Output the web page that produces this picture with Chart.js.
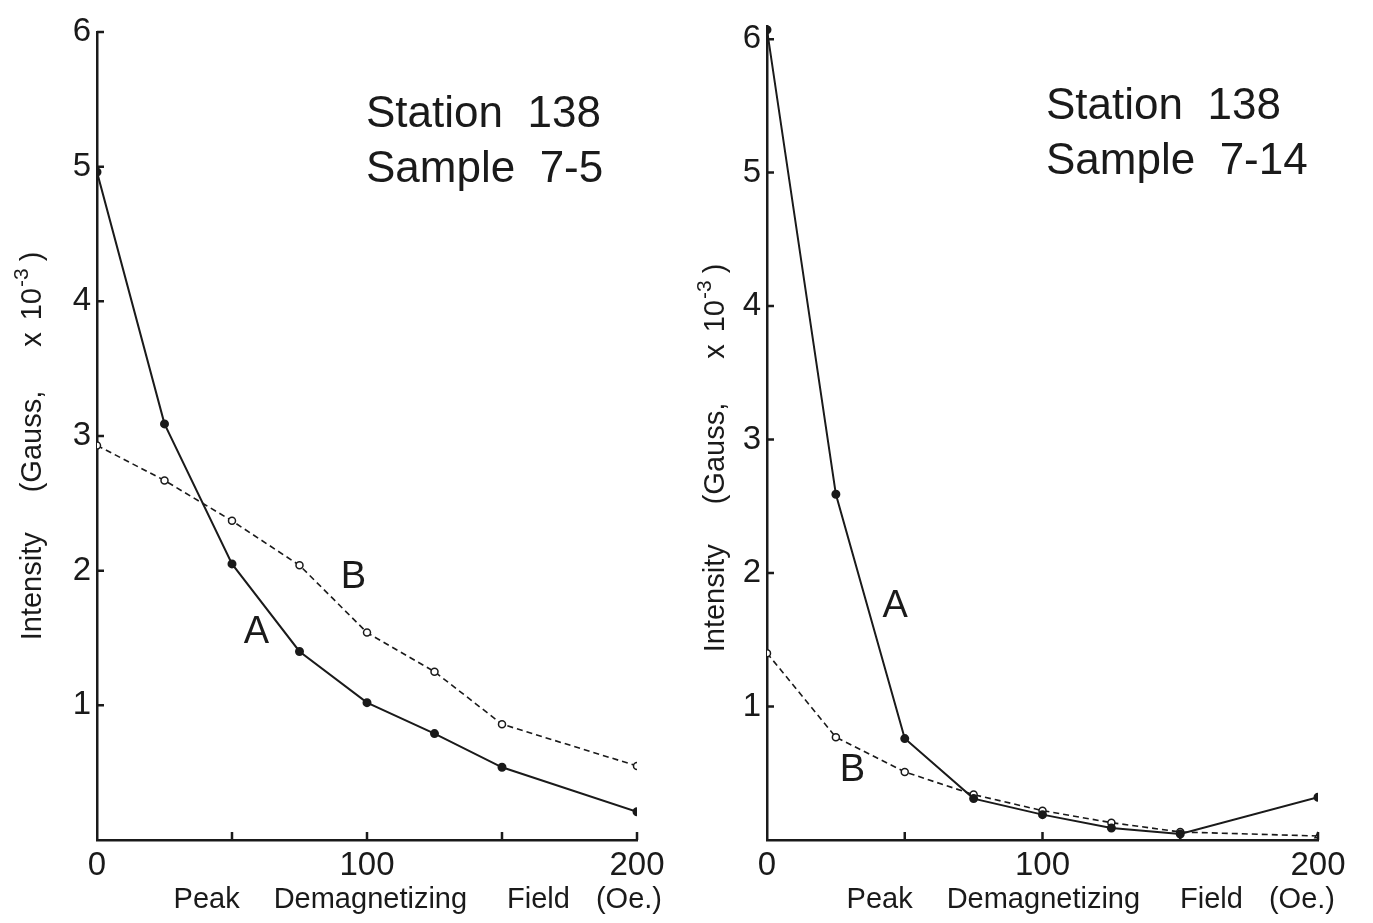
<!DOCTYPE html>
<html>
<head>
<meta charset="utf-8">
<script src="https://cdn.jsdelivr.net/npm/chart.js@4.4.0/dist/chart.umd.min.js"></script>
<style>
  html, body { margin: 0; padding: 0; background: #fff; }
  #wrap { position: relative; width: 1373px; height: 923px; overflow: hidden; }
  canvas { position: absolute; top: 0; }
</style>
</head>
<body>
<div id="wrap">
  <canvas id="left" width="686" height="923" style="left:0"></canvas>
  <canvas id="right" width="687" height="923" style="left:686px"></canvas>
</div>
<script>
// demagnetizing field steps (Oe.)
const fieldOe = [0, 25, 50, 75, 100, 125, 150, 200];

// Sample 7-5
const leftA = [4.96, 3.09, 2.05, 1.40, 1.02, 0.79, 0.54, 0.21];
const leftB = [2.93, 2.67, 2.37, 2.04, 1.54, 1.25, 0.86, 0.55];

// Sample 7-14
const rightA = [6.07, 2.59, 0.76, 0.31, 0.19, 0.09, 0.045, 0.32];
const rightB = [1.40, 0.77, 0.51, 0.34, 0.22, 0.13, 0.06, 0.03];

const xTickLabels = [0, 100, 200];
const xTickMarks = [50, 100, 150, 200];
const yTickLabels = [1, 2, 3, 4, 5, 6];

const ink = '#1a1a1a';
const FONT = '"Liberation Sans", Arial, sans-serif';

// draw a run of words with fixed gaps, ending at xEnd
function wordRun(ctx, words, gaps, xEnd, y) {
  let total = 0;
  words.forEach((w, i) => { total += ctx.measureText(w).width + (i < gaps.length ? gaps[i] : 0); });
  let x = xEnd - total;
  ctx.textAlign = 'left';
  words.forEach((w, i) => {
    ctx.fillText(w, x, y);
    x += ctx.measureText(w).width + (i < gaps.length ? gaps[i] : 0);
  });
}

// titles, station text and the A / B curve labels
const decor = {
  id: 'decor',
  afterDraw(chart, args, o) {
    const { ctx, chartArea: ca, scales } = chart;
    const xs = scales.x, ys = scales.y;
    ctx.save();
    ctx.strokeStyle = ink;
    ctx.fillStyle = ink;

    // inward tick marks
    ctx.lineWidth = 2.5;
    ctx.beginPath();
    yTickLabels.forEach(v => {
      const py = ys.getPixelForValue(v);
      ctx.moveTo(ca.left, py);
      ctx.lineTo(ca.left + 7, py);
    });
    xTickMarks.forEach(v => {
      const px = xs.getPixelForValue(v);
      ctx.moveTo(px, ca.bottom);
      ctx.lineTo(px, ca.bottom - 8);
    });
    ctx.stroke();

    // y title, rotated, with superscript exponent
    // [text, size, raise, gap after]
    const parts = [
      ['Intensity', 29, 0, 40],
      ['(Gauss,', 29, 0, 44],
      ['x', 29, 0, 12],
      ['10', 29, 0, 1],
      ['-3', 21, -11, 7],
      [')', 29, 0, 0]
    ];
    let total = 0;
    parts.forEach(p => { ctx.font = p[1] + 'px ' + FONT; total += ctx.measureText(p[0]).width + p[3]; });
    ctx.translate(o.yTitleX, o.yTitleY);
    ctx.rotate(-Math.PI / 2);
    ctx.textBaseline = 'middle';
    ctx.textAlign = 'left';
    let cx = -total / 2;
    parts.forEach(p => {
      ctx.font = p[1] + 'px ' + FONT;
      ctx.fillText(p[0], cx, p[2]);
      cx += ctx.measureText(p[0]).width + p[3];
    });
    ctx.setTransform(1, 0, 0, 1, 0, 0);

    // x title
    ctx.font = '29px ' + FONT;
    ctx.textBaseline = 'middle';
    wordRun(ctx, ['Peak', 'Demagnetizing', 'Field', '(Oe.)'], [34, 40, 26], ca.right + o.xTitleShift, 900);

    // station / sample block
    ctx.font = '44px ' + FONT;
    ctx.textAlign = 'left';
    ctx.fillText(o.station, o.stationX, o.stationY);
    ctx.fillText(o.sample, o.stationX, o.stationY + 55);

    // curve labels
    ctx.font = '38px ' + FONT;
    ctx.textAlign = 'center';
    o.curveLabels.forEach(l => {
      ctx.fillText(l.text, xs.getPixelForValue(l.x), ys.getPixelForValue(l.y));
    });
    ctx.restore();
  }
};

function makeChart(id, a, b, o) {
  const pts = arr => fieldOe.map((x, i) => ({ x: x, y: arr[i] }));
  return new Chart(document.getElementById(id), {
    type: 'line',
    data: {
      datasets: [
        {
          label: 'A',
          data: pts(a),
          borderColor: ink,
          borderWidth: 2,
          pointRadius: 3.5,
          pointBackgroundColor: ink,
          pointBorderColor: ink,
          tension: 0
        },
        {
          label: 'B',
          data: pts(b),
          borderColor: ink,
          borderWidth: 1.6,
          borderDash: [6, 4],
          pointRadius: 3.5,
          pointBackgroundColor: '#fff',
          pointBorderColor: ink,
          pointBorderWidth: 1.5,
          pointStyle: o.bStyles,
          tension: 0
        }
      ]
    },
    options: {
      responsive: false,
      animation: false,
      layout: { padding: { top: o.padTop, right: o.padRight, left: 0, bottom: 0 } },
      plugins: {
        legend: { display: false },
        tooltip: { enabled: false },
        decor: o.decor
      },
      scales: {
        x: {
          type: 'linear',
          min: 0,
          max: 200,
          afterFit(s) { s.height = 83; },
          grid: { display: false, drawTicks: false },
          border: { display: true, color: ink, width: 2.5 },
          ticks: {
            stepSize: 50,
            autoSkip: false,
            maxRotation: 0,
            padding: 6,
            color: ink,
            font: { family: FONT, size: 33 },
            callback: v => xTickLabels.includes(v) ? String(v) : ''
          }
        },
        y: {
          type: 'linear',
          min: 0,
          max: o.yMax,
          afterFit(s) { s.width = o.axisLeft; },
          grid: { display: false, drawTicks: false },
          border: { display: true, color: ink, width: 2.5 },
          ticks: {
            stepSize: 1,
            autoSkip: false,
            includeBounds: false,
            padding: 6,
            color: ink,
            font: { family: FONT, size: 33 },
            callback: v => yTickLabels.includes(v) ? String(v) : ''
          }
        }
      }
    },
    plugins: [decor]
  });
}

makeChart('left', leftA, leftB, {
  padTop: 32, padRight: 49, axisLeft: 97, yMax: 6,
  bStyles: 'circle',
  decor: {
    yTitleX: 33, yTitleY: 446, xTitleShift: 25,
    station: 'Station  138', sample: 'Sample  7-5', stationX: 366, stationY: 115,
    curveLabels: [{ text: 'A', x: 59, y: 1.54 }, { text: 'B', x: 95, y: 1.95 }]
  }
});

makeChart('right', rightA, rightB, {
  padTop: 17, padRight: 55, axisLeft: 81, yMax: 6.1,
  bStyles: ['circle', 'circle', 'circle', 'circle', 'circle', 'circle', 'circle', 'triangle'],
  decor: {
    yTitleX: 30, yTitleY: 458, xTitleShift: 17,
    station: 'Station  138', sample: 'Sample  7-14', stationX: 360, stationY: 107,
    curveLabels: [{ text: 'A', x: 46.5, y: 1.75 }, { text: 'B', x: 31, y: 0.52 }]
  }
});
</script>
</body>
</html>
